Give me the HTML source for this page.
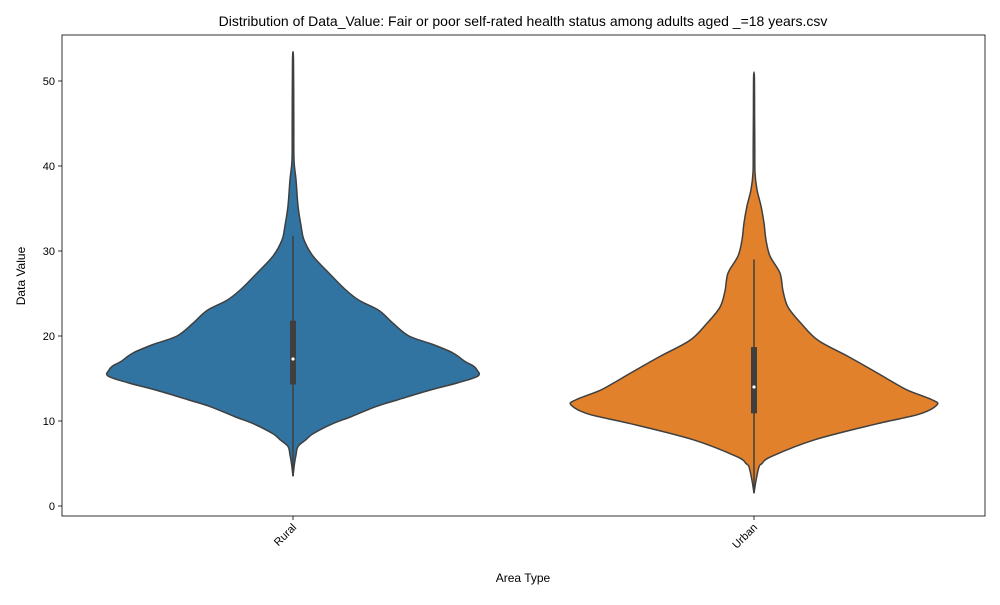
<!DOCTYPE html>
<html><head><meta charset="utf-8"><style>
body{margin:0;background:#fff;}
svg{font-family:"Liberation Sans","DejaVu Sans",sans-serif;}
</style></head><body>
<svg id="chart" width="1000" height="600"></svg>
<script>
const categories = ["Rural","Urban"];
const ruralValues = [3.5,5,6,7,7.8,8.5,9.7,10.5,11.7,12.5,13.6,14.5,15.3,16,16.5,17,18,19,20,21.5,23,24.2,25.5,27.4,29.4,31.3,33,35.3,38.4,40.7,45,52.5];
const ruralDensity = [0,1.5,3,5,13,20,40,58,83,105,136,165,185,184,180,172,160,140,116,100,86,66,52,36,20,11,8,5,3,1,0.8,0.5];
const urbanValues = [1.5,3,4.6,5,5.8,7.8,9.7,10.8,11.9,12.5,13.6,14.5,15.6,17.6,19.5,21.5,23.4,25.3,27.4,29.4,31.3,33.3,35.3,37.2,39.2,42,46,50.5];
const urbanDensity = [0,2,5,8,17,61,124,165,183,178,154,140,124,94,64,47,34,29,26,16,12,10,7,3,1,0.8,0.6,0.4];
const boxQ1 = [14.3,10.9];
const boxQ3 = [21.8,18.7];
const medians = [17.3,14];
const whiskLow = [3.5,1.5];
const whiskHigh = [31.8,29];
const yTicks = [0,10,20,30,40,50];
const colors = ["#3274a1","#e1812c"];

const NS="http://www.w3.org/2000/svg";
const svg=document.getElementById('chart');
const L=62,R=985,T=35,B=516;
const yScale=v=>506-8.5*v;
const xScale=i=>293+i*461;
function mk(tag,attrs,parent){const e=document.createElementNS(NS,tag);for(const k in attrs)e.setAttribute(k,attrs[k]);(parent||svg).appendChild(e);return e;}

const vals=[ruralValues,urbanValues], dens=[ruralDensity,urbanDensity];
categories.forEach((c,i)=>{
  const cx=xScale(i);
  let pts=[];
  vals[i].forEach((v,j)=>pts.push([cx+dens[i][j],yScale(v)]));
  for(let j=vals[i].length-1;j>=0;j--)pts.push([cx-dens[i][j],yScale(vals[i][j])]);
  let d="M"+pts[0][0]+","+pts[0][1];
  for(let k=0;k<pts.length-1;k++){
    const p0=pts[Math.max(k-1,0)],p1=pts[k],p2=pts[k+1],p3=pts[Math.min(k+2,pts.length-1)];
    d+=" C"+(p1[0]+(p2[0]-p0[0])/6)+","+(p1[1]+(p2[1]-p0[1])/6)+" "+(p2[0]-(p3[0]-p1[0])/6)+","+(p2[1]-(p3[1]-p1[1])/6)+" "+p2[0]+","+p2[1];
  }
  d+="Z";
  const v=mk('path',{d:d,fill:colors[i],stroke:"#3f3f3f","stroke-width":1.5});
  
  
  const w=mk('line',{x1:cx,x2:cx,y1:yScale(whiskLow[i]),y2:yScale(whiskHigh[i]),stroke:"#3f3f3f","stroke-width":1.5});
  
  
  const b=mk('rect',{x:cx-3,y:yScale(boxQ3[i]),width:6,height:yScale(boxQ1[i])-yScale(boxQ3[i]),fill:"#3f3f3f"});
  
  
  const m=mk('circle',{cx:cx,cy:yScale(medians[i]),r:1.6,fill:"#fff"});
  
  
  const tk=mk('line',{x1:cx,x2:cx,y1:B,y2:B+4,stroke:"#000","stroke-width":0.8});
  
  
  const t=mk('text',{x:0,y:0,"font-size":11,"text-anchor":"end",transform:"translate("+(cx+4)+","+(B+12)+") rotate(-45)"});
  t.textContent=c;
  
  
});
yTicks.forEach(v=>{
  const tk=mk('line',{x1:L-4,x2:L,y1:yScale(v),y2:yScale(v),stroke:"#000","stroke-width":0.8});
  
  
  const t=mk('text',{x:L-7,y:yScale(v)+4,"font-size":11,"text-anchor":"end"});
  t.textContent=v;
  
  
});
const frame=mk('rect',{x:L,y:T,width:R-L,height:B-T,fill:"none",stroke:"#000","stroke-width":0.8});


const title=mk('text',{x:523,y:26,"font-size":14,"text-anchor":"middle"});
title.textContent="Distribution of Data_Value: Fair or poor self-rated health status among adults aged _=18 years.csv";


const xl=mk('text',{x:523,y:582,"font-size":12,"text-anchor":"middle"});
xl.textContent="Area Type";


const yl=mk('text',{x:0,y:0,"font-size":12,"text-anchor":"middle",transform:"translate(25,276) rotate(-90)"});
yl.textContent="Data Value";


</script>
</body></html>
